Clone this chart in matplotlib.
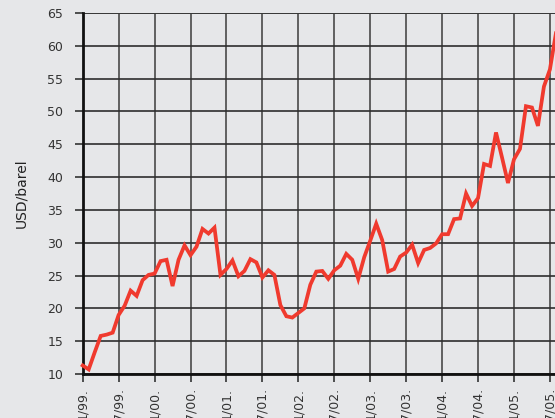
import numpy as np
import matplotlib
matplotlib.use("Agg")
import matplotlib.pyplot as plt

# monthly oil price, Jan 1999 .. Aug 2005 (USD/barrel)
price_1999 = [11.3, 10.7, 13.3, 15.8, 16.0, 16.3, 19.0, 20.4, 22.7, 21.9, 24.3, 25.1]
price_2000 = [25.3, 27.2, 27.4, 23.4, 27.4, 29.6, 28.1, 29.4, 32.1, 31.4, 32.3, 25.1]
price_2001 = [26.0, 27.3, 24.9, 25.7, 27.5, 27.0, 24.7, 25.8, 25.1, 20.5, 18.8, 18.6]
price_2002 = [19.3, 20.0, 23.6, 25.6, 25.7, 24.5, 25.8, 26.5, 28.3, 27.4, 24.5, 27.8]
price_2003 = [30.3, 32.9, 30.4, 25.6, 26.0, 27.9, 28.5, 29.7, 26.9, 28.9, 29.2, 29.9]
price_2004 = [31.3, 31.3, 33.6, 33.7, 37.5, 35.6, 36.8, 42.0, 41.7, 46.8, 43.0, 39.1]
price_2005 = [42.7, 44.3, 50.8, 50.6, 47.8, 53.8, 56.4, 61.9]

prices = price_1999 + price_2000 + price_2001 + price_2002 + price_2003 + price_2004 + price_2005
tick_labels = ["1/99.", "7/99.", "1/00.", "7/00.", "1/01.", "7/01.", "1/02.", "7/02.",
               "1/03.", "7/03.", "1/04.", "7/04.", "1/05.", "7/05."]
y_ticks = [10, 15, 20, 25, 30, 35, 40, 45, 50, 55, 60, 65]

bg = "#e6e7e9"
W, H = 555, 418
fig = plt.figure(figsize=(W / 100, H / 100), dpi=100, facecolor=bg)

px_month = 5.99
left = 82.7
n_months = 80
ax = fig.add_axes([left / W, 1 - 374 / H, n_months * px_month / W, (374 - 13) / H])
ax.set_facecolor(bg)

months = np.arange(len(prices))
ax.plot(months, prices, color="#f03a2e", lw=2.7, solid_joinstyle="miter", zorder=3, clip_on=False)

ax.set_xlim(0, n_months)
ax.set_ylim(10, 65)
ax.set_yticks(y_ticks)
ax.set_xticks(np.arange(0, 6 * len(tick_labels), 6))
ax.set_xticklabels(tick_labels, rotation=90, va="top", ha="center")

ax.grid(True, axis="y", color="#2e2e2e", lw=1.2)
ax.grid(True, axis="x", color="#555555", lw=1.3)
ax.set_axisbelow(True)
for s in ["top", "right"]:
    ax.spines[s].set_visible(False)
ax.axhline(65, color="#3a3a3a", lw=1.4, zorder=1)
for s in ["left", "bottom"]:
    ax.spines[s].set_color("#111111")
    ax.spines[s].set_linewidth(2)

ax.tick_params(axis="y", length=6, width=1.2, color="#333333", labelcolor="#333333",
               labelsize=9, pad=8)
ax.tick_params(axis="x", length=6, width=1.2, color="#333333", labelcolor="#333333",
               labelsize=9, pad=4)

ax.set_ylabel("USD/barel", fontsize=10, color="#222222", labelpad=14)

fig.savefig("out.png", dpi=100, facecolor=bg)
